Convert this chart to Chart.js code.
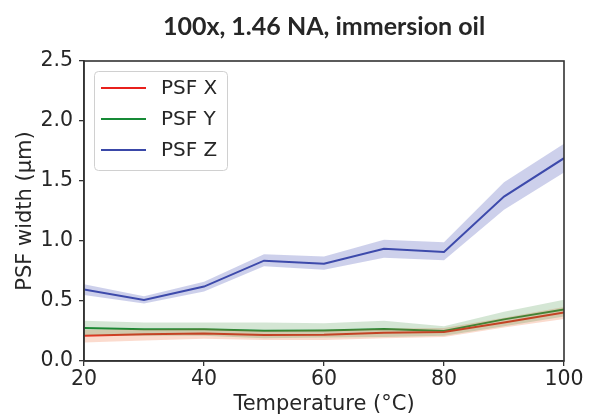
<!DOCTYPE html>
<html><head><meta charset="utf-8">
<script src="https://cdn.jsdelivr.net/npm/chart.js@4"></script>
<style>html,body{margin:0;padding:0;background:#fff}#wrap{width:600px;height:417px}</style>
</head><body><div id="wrap"><canvas id="c" width="600" height="417"></canvas></div>
<script>
const temps = [20, 30, 40, 50, 60, 70, 80, 90, 100];
const psfX = [0.211, 0.222, 0.230, 0.217, 0.219, 0.236, 0.242, 0.320, 0.405];
const psfXUpper = [0.260, 0.265, 0.270, 0.255, 0.260, 0.270, 0.275, 0.360, 0.450];
const psfXLower = [0.155, 0.170, 0.185, 0.175, 0.175, 0.190, 0.200, 0.280, 0.350];
const psfY = [0.275, 0.264, 0.264, 0.253, 0.255, 0.267, 0.250, 0.347, 0.430];
const psfYUpper = [0.335, 0.320, 0.320, 0.320, 0.315, 0.335, 0.290, 0.410, 0.510];
const psfYLower = [0.215, 0.210, 0.210, 0.190, 0.195, 0.200, 0.210, 0.290, 0.370];
const psfZ = [0.597, 0.508, 0.620, 0.836, 0.810, 0.936, 0.908, 1.370, 1.690];
const psfZUpper = [0.640, 0.540, 0.660, 0.890, 0.870, 1.010, 0.990, 1.490, 1.810];
const psfZLower = [0.550, 0.480, 0.580, 0.790, 0.760, 0.860, 0.840, 1.260, 1.570];
const xTicks = [20, 40, 60, 80, 100];
const yTicks = [0.0, 0.5, 1.0, 1.5, 2.0, 2.5];

const pts = arr => arr.map((v, i) => ({x: temps[i], y: v}));
const band = (lo, hi, color) => [
  {label: '_lo', data: pts(lo), borderWidth: 0, pointRadius: 0, fill: false, borderColor: 'transparent'},
  {label: '_hi', data: pts(hi), borderWidth: 0, pointRadius: 0, fill: '-1', backgroundColor: color, borderColor: 'transparent'}
];
const line = (label, data, color) => ({label, data: pts(data), borderColor: color, borderWidth: 2, pointRadius: 0, fill: false, backgroundColor: color});

const TXT = '#262626';
const tickFont = {family: '"DejaVu Sans"', size: 20.5};
const labelFont = {family: '"DejaVu Sans"', size: 21};

const framePlugin = {
  id: 'frame',
  afterDatasetsDraw(chart) {
    const {ctx, chartArea: a} = chart;
    ctx.save();
    ctx.strokeStyle = '#333';
    ctx.lineWidth = 1.6;
    ctx.strokeRect(a.left, a.top, a.right - a.left, a.bottom - a.top);
    ctx.restore();
  },
  afterDraw(chart) {
    const ctx = chart.ctx;
    const items = chart.data.datasets.filter(d => !d.label.startsWith('_'));
    const x0 = 94, y0 = 71, w = 133, h = 99;
    ctx.save();
    ctx.beginPath();
    ctx.roundRect(x0 + 0.5, y0 + 0.5, w, h, 4);
    ctx.fillStyle = 'rgba(255,255,255,0.85)';
    ctx.fill();
    ctx.strokeStyle = '#d0d0d0';
    ctx.lineWidth = 1;
    ctx.stroke();
    ctx.font = '20px "DejaVu Sans"';
    ctx.textBaseline = 'middle';
    items.forEach((d, i) => {
      const y = 88 + i * 31;
      ctx.strokeStyle = d.borderColor;
      ctx.lineWidth = 2;
      ctx.beginPath(); ctx.moveTo(101, y); ctx.lineTo(146, y); ctx.stroke();
      ctx.fillStyle = TXT;
      ctx.fillText(d.label, 161, y + 1);
    });
    ctx.restore();
  }
};

new Chart(document.getElementById('c'), {
  type: 'line',
  data: {
    datasets: [
      ...band(psfZLower, psfZUpper, 'rgba(70,80,180,0.27)'),
      ...band(psfYLower, psfYUpper, 'rgba(40,130,40,0.2)'),
      ...band(psfXLower, psfXUpper, 'rgba(240,110,60,0.25)'),
      line('PSF X', psfX, '#e8201c'),
      line('PSF Y', psfY, '#178a36'),
      line('PSF Z', psfZ, '#3a48a8')
    ]
  },
  options: {
    responsive: false,
    animation: false,
    devicePixelRatio: 1,
    layout: {padding: {left: 0, right: 36, top: 0, bottom: 0}},
    plugins: {
      legend: {display: false},
      tooltip: {enabled: false},
      title: {
        display: true,
        fullSize: false,
        text: '100x, 1.46 NA, immersion oil',
        color: TXT,
        font: {family: 'Lato', size: 25, weight: 'bold'},
        padding: {top: 12, bottom: 19}
      }
    },
    scales: {
      x: {
        type: 'linear', min: 20, max: 100,
        afterBuildTicks: s => { s.ticks = xTicks.map(v => ({value: v})); },
        afterFit: s => { s.height = 56; },
        ticks: {color: TXT, font: tickFont, padding: 1, maxRotation: 0},
        grid: {display: true, drawOnChartArea: false, drawTicks: true, tickLength: 5, color: '#333', lineWidth: 1.3},
        border: {display: true, color: '#333', width: 1.6},
        title: {display: true, text: 'Temperature (°C)', color: TXT, font: labelFont, padding: {top: 0, bottom: 0}}
      },
      y: {
        type: 'linear', min: 0, max: 2.5,
        afterBuildTicks: s => { s.ticks = yTicks.map(v => ({value: v})); },
        afterFit: s => { s.width = 84; },
        ticks: {color: TXT, font: tickFont, padding: 6, callback: v => v.toFixed(1)},
        grid: {display: true, drawOnChartArea: false, drawTicks: true, tickLength: 5, color: '#333', lineWidth: 1.3},
        border: {display: true, color: '#333', width: 1.6},
        title: {display: true, text: 'PSF width (µm)', color: TXT, font: labelFont, padding: {top: 13, bottom: 0}}
      }
    }
  },
  plugins: [framePlugin]
});
</script>
</body></html>
